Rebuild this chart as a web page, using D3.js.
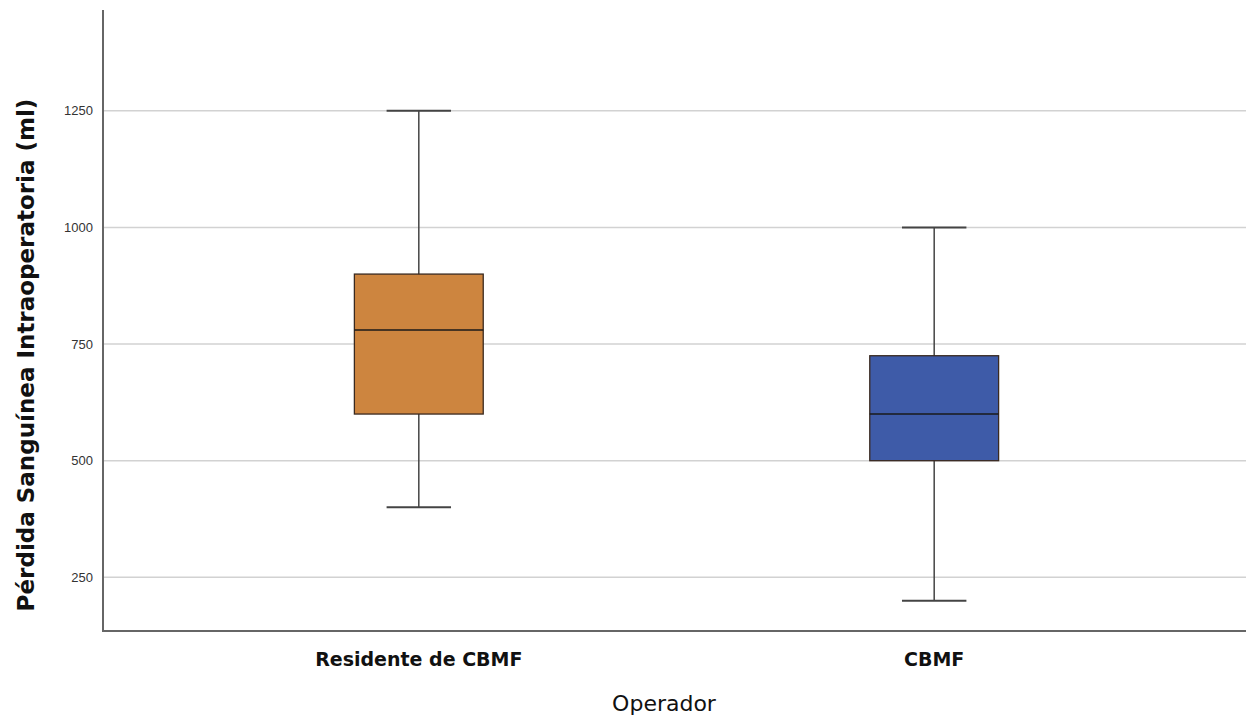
<!DOCTYPE html>
<html>
<head>
<meta charset="utf-8">
<style>
  body { margin: 0; background: #fff; }
  svg { display: block; }
</style>
</head>
<body>
<svg width="1246" height="718"></svg>
<script src="https://d3js.org/d3.v7.min.js"></script>
<script>
  // chart data
  var categories = ["Residente de CBMF", "CBMF"];
  var whiskerLow = [400, 200];
  var q1 = [600, 500];
  var medians = [780, 600];
  var q3 = [900, 725];
  var whiskerHigh = [1250, 1000];
  var boxColors = ["#cd853f", "#3e5ba8"];
  var yTicks = [250, 500, 750, 1000, 1250];

  var svg = d3.select("svg"),
      plotLeft = 103, plotRight = 1246, plotTop = 10, plotBottom = 631;

  var data = categories.map(function(c, i) {
    return {cat: c, lo: whiskerLow[i], q1: q1[i], med: medians[i], q3: q3[i], hi: whiskerHigh[i], color: boxColors[i]};
  });

  var x = d3.scaleBand()
      .domain(categories)
      .range([plotLeft + 4, plotRight])
      .paddingInner(0.75)
      .paddingOuter(0.48);

  var y = d3.scaleLinear()
      .domain([135, 1466])
      .range([plotBottom, plotTop]);

  // gridlines
  svg.append("g")
      .selectAll("line")
      .data(yTicks)
      .enter().append("line")
      .attr("x1", plotLeft)
      .attr("x2", plotRight)
      .attr("y1", function(d) { return y(d); })
      .attr("y2", function(d) { return y(d); })
      .attr("stroke", "#d2d2d2")
      .attr("stroke-width", 1.5);

  // y axis
  var yAxis = svg.append("g")
      .attr("transform", "translate(" + plotLeft + ",0)")
      .call(d3.axisLeft(y).tickValues(yTicks).tickFormat(d3.format("d")).tickSize(0).tickPadding(10));
  yAxis.select(".domain").remove();
  yAxis.selectAll("text")
      .attr("font-family", "Arial, 'Liberation Sans', sans-serif")
      .attr("font-size", 13)
      .attr("fill", "#333");

  svg.append("line")
      .attr("x1", plotLeft).attr("x2", plotLeft)
      .attr("y1", plotTop).attr("y2", plotBottom + 1)
      .attr("stroke", "#666").attr("stroke-width", 2);
  svg.append("line")
      .attr("x1", plotLeft).attr("x2", plotRight)
      .attr("y1", plotBottom).attr("y2", plotBottom)
      .attr("stroke", "#666").attr("stroke-width", 2);

  // boxes
  var g = svg.append("g")
      .selectAll("g")
      .data(data)
      .enter().append("g");

  var cx = function(d) { return x(d.cat) + x.bandwidth() / 2; };

  g.append("line")
      .attr("x1", cx).attr("x2", cx)
      .attr("y1", function(d) { return y(d.hi); })
      .attr("y2", function(d) { return y(d.lo); })
      .attr("stroke", "#444").attr("stroke-width", 1.5);

  g.selectAll(".cap")
      .data(function(d) { return [{d: d, v: d.hi}, {d: d, v: d.lo}]; })
      .enter().append("line")
      .attr("x1", function(e) { return cx(e.d) - x.bandwidth() / 4; })
      .attr("x2", function(e) { return cx(e.d) + x.bandwidth() / 4; })
      .attr("y1", function(e) { return y(e.v); })
      .attr("y2", function(e) { return y(e.v); })
      .attr("stroke", "#444").attr("stroke-width", 2);

  g.append("rect")
      .attr("x", function(d) { return x(d.cat); })
      .attr("width", x.bandwidth())
      .attr("y", function(d) { return y(d.q3); })
      .attr("height", function(d) { return y(d.q1) - y(d.q3); })
      .attr("fill", function(d) { return d.color; })
      .attr("stroke", "#3a2a20")
      .attr("stroke-width", 1.3);

  g.append("line")
      .attr("x1", function(d) { return x(d.cat); })
      .attr("x2", function(d) { return x(d.cat) + x.bandwidth(); })
      .attr("y1", function(d) { return y(d.med); })
      .attr("y2", function(d) { return y(d.med); })
      .attr("stroke", "#1a1a1a").attr("stroke-width", 1.5);

  // category labels
  svg.append("g")
      .selectAll("text")
      .data(categories)
      .enter().append("text")
      .attr("x", function(d) { return x(d) + x.bandwidth() / 2; })
      .attr("y", 666)
      .attr("text-anchor", "middle")
      .attr("font-family", "'DejaVu Sans', sans-serif")
      .attr("font-weight", "bold")
      .attr("font-size", 19)
      .attr("fill", "#111")
      .text(function(d) { return d; });

  // axis titles
  svg.append("text")
      .attr("x", 664)
      .attr("y", 711)
      .attr("text-anchor", "middle")
      .attr("font-family", "'DejaVu Sans', sans-serif")
      .attr("font-size", 22)
      .attr("fill", "#111")
      .text("Operador");

  svg.append("text")
      .attr("transform", "translate(34," + 355 + ") rotate(-90)")
      .attr("text-anchor", "middle")
      .attr("font-family", "'DejaVu Sans', sans-serif")
      .attr("font-weight", "bold")
      .attr("font-size", 23)
      .attr("fill", "#111")
      .text("Pérdida Sanguínea Intraoperatoria (ml)");
</script>
</body>
</html>
